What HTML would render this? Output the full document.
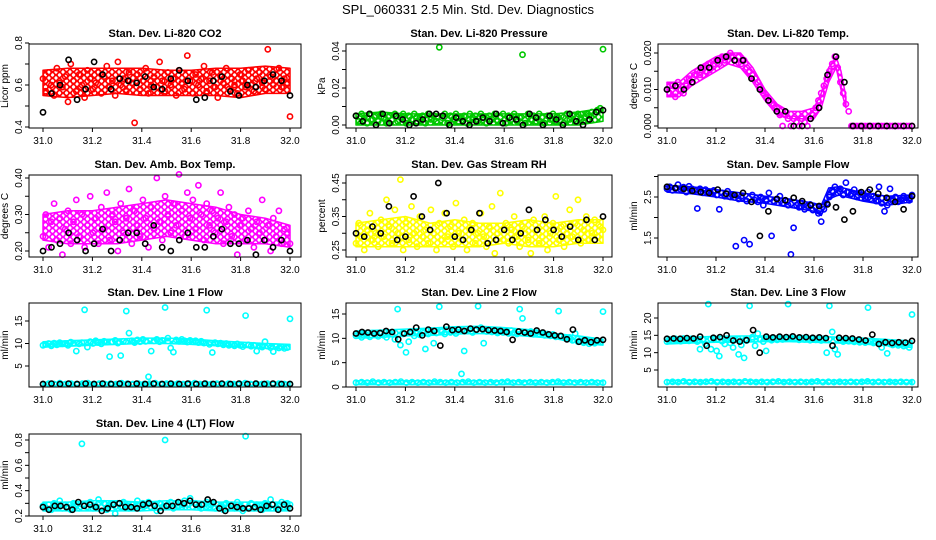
<!DOCTYPE html>
<html><head><meta charset="utf-8">
<style>
html,body{margin:0;padding:0;background:#fff;}
svg{display:block;font-family:"Liberation Sans",Arial,sans-serif;}
</style></head>
<body>
<svg id="chart" width="936" height="540" viewBox="0 0 936 540" xmlns="http://www.w3.org/2000/svg">
<defs id="defs"></defs>
<text x="468" y="14" text-anchor="middle" font-size="13">SPL_060331  2.5 Min. Std. Dev. Diagnostics</text>
</svg>
<script>
// ---- data ----
const xTicks = [31.0, 31.2, 31.4, 31.6, 31.8, 32.0];
const bandX11 = [31.0,31.1,31.2,31.3,31.4,31.5,31.6,31.7,31.8,31.9,32.0];
const co2Red = [0.63,0.57,0.66,0.60,0.55,0.68,0.61,0.59,0.64,0.52,0.70,0.62,0.57,0.65,0.60,0.54,0.67,0.63,0.58,0.61,0.66,0.56,0.64,0.69,0.59,0.62,0.55,0.71,0.60,0.63,0.57,0.66,0.61,0.42,0.65,0.58,0.62,0.68,0.56,0.60,0.64,0.59,0.71,0.62,0.57,0.66,0.60,0.63,0.55,0.67,0.61,0.58,0.74,0.62,0.56,0.65,0.60,0.63,0.69,0.57,0.62,0.66,0.59,0.54,0.64,0.61,0.68,0.58,0.63,0.60,0.56,0.65,0.62,0.59,0.67,0.60,0.57,0.63,0.66,0.61,0.58,0.77,0.64,0.60,0.62,0.68,0.59,0.63,0.61,0.45];
const co2Black = [0.47,0.56,0.60,0.72,0.53,0.58,0.71,0.65,0.58,0.63,0.62,0.61,0.64,0.59,0.58,0.63,0.67,0.62,0.53,0.54,0.62,0.64,0.57,0.55,0.60,0.59,0.62,0.65,0.62,0.55];
const co2BandLow = [0.55,0.54,0.55,0.56,0.55,0.55,0.55,0.55,0.54,0.56,0.56];
const co2BandHigh = [0.67,0.68,0.68,0.68,0.68,0.67,0.67,0.68,0.68,0.69,0.68];
const presGreen = [0.005,0.002,0.006,0.004,0.001,0.006,0.003,0.005,0.002,0.006,0.004,0.001,0.005,0.003,0.006,0.002,0.004,0.006,0.001,0.005,0.003,0.006,0.002,0.004,0.005,0.001,0.006,0.003,0.005,0.002,0.042,0.004,0.006,0.001,0.005,0.003,0.006,0.002,0.004,0.005,0.001,0.006,0.003,0.005,0.002,0.006,0.004,0.001,0.005,0.003,0.006,0.002,0.004,0.006,0.001,0.005,0.003,0.006,0.002,0.004,0.038,0.001,0.006,0.003,0.005,0.002,0.006,0.004,0.001,0.005,0.003,0.006,0.002,0.004,0.005,0.001,0.006,0.003,0.005,0.002,0.006,0.004,0.002,0.006,0.005,0.007,0.006,0.008,0.009,0.041];
const presBlack = [0.005,0.002,0.006,0.000,0.006,0.001,0.005,0.003,0.000,0.001,0.003,0.006,0.006,0.005,0.000,0.004,0.002,0.000,0.002,0.004,0.002,0.006,0.001,0.004,0.003,0.000,0.006,0.004,0.000,0.005,0.003,0.000,0.006,0.002,0.000,0.003,0.007,0.008];
const presBandLow = [0,0,0,0,0,0,0,0,0,0,0.002];
const presBandHigh = [0.006,0.007,0.006,0.006,0.006,0.006,0.006,0.006,0.006,0.007,0.009];
const tempMag = [0.010,0.009,0.011,0.008,0.012,0.010,0.009,0.011,0.013,0.012,0.014,0.015,0.014,0.016,0.015,0.017,0.016,0.017,0.018,0.017,0.019,0.018,0.019,0.020,0.019,0.018,0.019,0.017,0.018,0.016,0.015,0.014,0.013,0.012,0.010,0.009,0.008,0.007,0.006,0.005,0.004,0.003,0.000,0.003,0.002,0.000,0.002,0.001,0.000,0.002,0.001,0.000,0.002,0.003,0.005,0.007,0.009,0.011,0.013,0.015,0.017,0.019,0.016,0.012,0.009,0.006,0.004,0,0,0,0,0,0,0,0,0,0,0,0,0,0,0,0,0,0,0,0,0,0,0];
const tempBlack = [0.010,0.011,0.010,0.012,0.016,0.016,0.018,0.019,0.018,0.018,0.013,0.010,0.007,0.004,0.004,0.000,0.000,0.002,0.005,0.014,0.019,0.012,0,0,0,0,0,0,0,0];
const tempBandX = [31.0,31.05,31.1,31.15,31.2,31.25,31.3,31.35,31.4,31.45,31.5,31.55,31.6,31.63,31.66,31.69,31.71,31.73];
const tempBandLow = [0.008,0.008,0.011,0.013,0.015,0.017,0.016,0.012,0.007,0.003,0.002,0.002,0.002,0.005,0.012,0.016,0.010,0.005];
const tempBandHigh = [0.012,0.012,0.015,0.017,0.019,0.020,0.020,0.016,0.010,0.006,0.004,0.004,0.005,0.009,0.016,0.019,0.015,0.008];
const ambMag = [0.24,0.30,0.21,0.28,0.33,0.23,0.29,0.19,0.26,0.31,0.22,0.28,0.34,0.24,0.30,0.21,0.27,0.35,0.25,0.29,0.22,0.32,0.26,0.36,0.23,0.30,0.28,0.20,0.33,0.25,0.29,0.37,0.22,0.31,0.27,0.24,0.34,0.29,0.21,0.32,0.26,0.40,0.28,0.23,0.35,0.30,0.25,0.33,0.27,0.41,0.31,0.24,0.36,0.29,0.34,0.26,0.38,0.30,0.23,0.33,0.27,0.31,0.25,0.29,0.36,0.22,0.28,0.32,0.24,0.30,0.19,0.27,0.29,0.23,0.31,0.26,0.21,0.28,0.25,0.34,0.23,0.27,0.20,0.29,0.24,0.31,0.22,0.26,0.25,0.22];
const ambBlack = [0.20,0.21,0.22,0.25,0.23,0.20,0.22,0.26,0.20,0.23,0.25,0.25,0.22,0.27,0.21,0.20,0.23,0.25,0.21,0.21,0.24,0.26,0.22,0.22,0.23,0.19,0.23,0.21,0.23,0.20];
const ambBandLow = [0.23,0.22,0.22,0.22,0.23,0.24,0.23,0.22,0.22,0.22,0.21];
const ambBandHigh = [0.30,0.31,0.31,0.32,0.33,0.34,0.33,0.32,0.30,0.29,0.27];
const rhYellow = [0.27,0.33,0.29,0.25,0.31,0.36,0.28,0.30,0.26,0.34,0.29,0.40,0.32,0.27,0.37,0.30,0.46,0.25,0.33,0.28,0.38,0.30,0.26,0.35,0.29,0.31,0.27,0.37,0.30,0.25,0.33,0.28,0.36,0.29,0.32,0.26,0.39,0.30,0.28,0.34,0.25,0.31,0.33,0.27,0.30,0.36,0.29,0.26,0.32,0.38,0.24,0.30,0.42,0.28,0.33,0.27,0.31,0.35,0.29,0.26,0.32,0.30,0.28,0.24,0.34,0.31,0.27,0.29,0.35,0.25,0.30,0.33,0.41,0.28,0.32,0.26,0.30,0.37,0.29,0.33,0.40,0.27,0.31,0.35,0.28,0.30,0.34,0.29,0.32,0.31];
const rhBlack = [0.30,0.29,0.32,0.30,0.38,0.28,0.29,0.41,0.35,0.31,0.45,0.36,0.29,0.28,0.31,0.36,0.27,0.28,0.31,0.28,0.30,0.37,0.31,0.34,0.31,0.29,0.32,0.28,0.34,0.28,0.35];
const rhBandLow = [0.26,0.26,0.26,0.26,0.26,0.26,0.27,0.26,0.26,0.27,0.27];
const rhBandHigh = [0.33,0.34,0.35,0.33,0.34,0.33,0.33,0.34,0.33,0.34,0.34];
const flowBlue = [2.70,2.75,2.66,2.72,2.80,2.68,2.74,2.62,2.76,2.70,2.65,2.22,2.70,2.60,2.68,2.62,2.58,2.66,2.55,2.20,2.60,2.52,2.64,2.50,2.56,1.30,2.45,2.52,1.45,2.40,1.35,2.55,2.42,2.38,2.50,2.30,2.44,2.60,1.55,2.38,2.45,2.52,2.35,2.42,2.30,1.10,1.75,2.30,2.25,2.35,2.20,2.28,2.32,2.18,2.25,2.10,1.90,2.20,2.35,2.50,2.65,2.75,2.60,2.70,2.55,2.85,2.62,2.58,2.68,2.50,2.60,2.55,2.48,2.62,2.45,2.52,2.40,2.75,2.35,2.15,2.30,2.70,2.45,2.50,2.38,2.44,2.52,2.48,2.42,2.55];
const flowBlack = [2.75,2.72,2.70,2.65,2.62,2.60,2.68,2.58,2.55,2.60,2.38,1.55,2.15,2.45,2.42,2.48,2.40,2.30,2.28,2.32,2.25,1.95,2.15,2.62,2.68,2.58,2.48,2.38,2.20,2.52];
const flowBandX = [31.0,31.1,31.2,31.3,31.4,31.5,31.6,31.63,31.66,31.7,31.8,31.9,32.0];
const flowBandLow = [2.62,2.58,2.50,2.40,2.35,2.25,2.15,2.05,2.45,2.55,2.40,2.30,2.38];
const flowBandHigh = [2.78,2.75,2.68,2.60,2.52,2.45,2.35,2.30,2.72,2.75,2.60,2.52,2.55];
const l1Upper = [9.6,9.8,10.0,9.5,10.1,9.7,10.2,9.9,10.0,9.6,10.3,10.1,8.3,9.9,10.2,17.5,9.2,10.4,10.0,10.6,10.2,9.9,10.5,10.3,7.1,10.4,10.7,10.1,7.3,10.5,17.2,12.3,10.6,10.2,10.8,10.4,10.9,10.5,2.6,8.3,10.6,10.9,10.4,10.7,18.0,11.2,9.0,8.1,10.8,10.5,10.9,10.6,10.3,10.7,10.4,10.6,10.2,10.5,10.1,17.4,9.8,8.0,10.2,9.9,10.1,9.7,10.0,9.6,9.8,9.5,9.9,9.6,9.3,16.2,9.7,9.4,9.6,8.3,9.5,9.2,10.4,9.4,9.1,8.2,9.3,9.0,9.2,8.9,9.1,15.5];
const l1Lower = [1.0,1.1,1.0,1.2,1.0,1.1,1.0,1.1,1.2,1.0,1.1,1.0,1.1,1.0,1.2,1.1,1.0,1.1,1.0,1.1,1.2,1.0,1.1,1.0,1.1,1.0,1.1,1.2,1.0,1.1,1.0,1.1,1.0,1.1,1.0,1.1,1.2,1.0,1.1,1.0,1.1,1.0,1.1,1.0,1.0];
const l1Black = [1.0,1.1,1.0,1.1,1.0,1.1,1.0,1.1,1.0,1.1,1.0,1.1,1.0,1.1,1.0,1.1,1.0,1.1,1.0,1.1,1.0,1.1,1.0,1.1,1.0,1.1,1.0,1.1,1.0,1.0];
const l1BandLow = [9.2,9.4,9.6,9.8,10.0,10.0,9.8,9.5,9.2,8.9,8.7];
const l1BandHigh = [10.4,10.6,10.8,11.0,11.2,11.2,11.0,10.6,10.3,10.0,9.8];
const l1LowBandLow = [0.7,0.7,0.7,0.7,0.7,0.7,0.7,0.7,0.7,0.7,0.7];
const l1LowBandHigh = [1.4,1.4,1.4,1.4,1.4,1.4,1.4,1.4,1.4,1.4,1.4];
const l2Upper = [10.5,10.9,10.2,11.0,10.6,10.3,11.1,10.7,10.4,11.0,10.6,10.2,11.2,10.8,9.8,16.0,8.6,10.9,7.1,9.3,11.3,10.5,11.0,10.7,11.4,7.8,10.9,11.6,9.0,11.1,16.5,11.4,10.9,11.7,11.2,11.5,11.0,11.8,2.7,7.4,11.5,11.9,11.2,11.6,16.6,12.2,9.0,11.4,11.8,11.3,11.6,11.1,11.7,11.2,11.5,11.0,11.6,11.2,10.9,16.0,14.1,11.3,11.0,11.4,10.8,11.2,10.9,11.1,10.6,10.9,10.5,10.8,10.3,15.6,10.4,10.1,10.0,10.2,9.6,11.0,9.3,9.5,9.1,9.4,8.9,9.3,9.0,9.5,9.2,15.5];
const l2Lower = [0.9,1.0,0.9,1.1,0.9,1.0,0.9,1.0,1.1,0.9,1.0,0.9,1.0,0.9,1.1,1.0,0.9,1.0,0.9,1.0,1.1,0.9,1.0,0.9,1.0,0.9,1.0,1.1,0.9,1.0,0.9,1.0,0.9,1.0,0.9,1.0,1.1,0.9,1.0,0.9,1.0,0.9,1.0,0.9,0.9];
const l2Black = [11.0,11.3,11.2,11.0,11.1,11.5,11.3,9.8,11.0,11.3,12.2,10.6,11.8,11.5,8.5,12.4,11.7,11.8,11.5,12.0,11.8,11.9,11.7,11.6,11.5,11.3,9.7,11.4,11.2,11.0,11.6,11.2,10.8,10.6,10.5,9.8,11.8,9.3,9.6,9.2,9.6,9.7];
const l2BandLow = [10.0,10.2,10.5,10.6,10.9,11.0,10.8,10.4,10.0,9.0,8.6];
const l2BandHigh = [11.5,11.7,11.9,12.1,12.4,12.5,12.2,11.8,11.0,10.5,9.8];
const l2LowBandLow = [0.5,0.5,0.5,0.5,0.5,0.5,0.5,0.5,0.5,0.5,0.5];
const l2LowBandHigh = [1.3,1.3,1.3,1.3,1.3,1.3,1.3,1.3,1.3,1.3,1.3];
const l3Upper = [13.2,13.8,13.5,14.0,13.6,13.3,14.1,13.7,13.4,14.0,13.6,13.2,11.0,13.8,12.5,24.0,11.0,13.9,10.5,9.0,13.3,12.5,14.0,12.8,11.5,13.7,9.5,12.2,8.5,13.5,23.5,14.5,12.0,15.5,13.8,13.2,10.5,14.0,13.6,14.1,13.7,14.2,13.8,14.0,24.0,14.3,13.9,14.1,13.7,14.2,13.8,14.0,13.6,14.1,13.7,13.9,13.5,14.0,10.0,23.5,16.0,11.0,9.5,13.6,13.2,13.7,13.3,13.6,13.1,13.5,13.0,13.4,12.9,23.0,13.2,12.8,13.1,12.6,11.5,13.2,9.8,12.5,12.2,12.6,12.1,12.4,11.9,12.3,11.5,21.0];
const l3Lower = [1.5,1.6,1.5,1.7,1.5,1.6,1.5,1.6,1.7,1.5,1.6,1.5,1.6,1.5,1.7,1.6,1.5,1.6,1.5,1.6,1.7,1.5,1.6,1.5,1.6,1.5,1.6,1.7,1.5,1.6,1.5,1.6,1.5,1.6,1.5,1.6,1.7,1.5,1.6,1.5,1.6,1.5,1.6,1.5,1.5];
const l3Black = [14.0,14.1,14.0,14.2,14.1,14.6,12.0,14.3,14.5,15.0,13.5,13.2,13.6,16.5,10.0,14.6,14.4,14.6,14.5,14.7,14.4,14.5,14.3,14.4,14.2,12.0,14.3,14.2,14.1,13.8,13.5,15.2,12.5,13.0,12.8,13.0,12.9,13.4];
const l3BandLow = [12.5,12.8,13.0,13.0,13.2,13.2,13.0,12.8,12.5,12.0,11.5];
const l3BandHigh = [14.3,14.5,14.7,14.8,14.8,14.8,14.7,14.5,14.2,13.8,13.4];
const l3LowBandLow = [1.1,1.1,1.1,1.1,1.1,1.1,1.1,1.1,1.1,1.1,1.1];
const l3LowBandHigh = [2.0,2.0,2.0,2.0,2.0,2.0,2.0,2.0,2.0,2.0,2.0];
const l4Cyan = [0.28,0.26,0.29,0.25,0.30,0.27,0.32,0.26,0.29,0.27,0.25,0.30,0.28,0.26,0.77,0.29,0.27,0.31,0.26,0.28,0.33,0.27,0.30,0.25,0.29,0.26,0.22,0.30,0.27,0.31,0.28,0.26,0.29,0.27,0.32,0.26,0.30,0.28,0.31,0.27,0.29,0.24,0.30,0.27,0.80,0.28,0.31,0.26,0.30,0.28,0.27,0.32,0.29,0.34,0.27,0.30,0.28,0.26,0.29,0.31,0.27,0.30,0.26,0.29,0.28,0.25,0.30,0.27,0.29,0.26,0.31,0.28,0.24,0.83,0.27,0.30,0.26,0.29,0.28,0.25,0.30,0.27,0.33,0.29,0.26,0.28,0.31,0.27,0.30,0.29];
const l4Black = [0.27,0.25,0.28,0.28,0.27,0.25,0.31,0.28,0.29,0.27,0.24,0.26,0.29,0.30,0.27,0.27,0.26,0.29,0.30,0.28,0.24,0.28,0.28,0.31,0.30,0.32,0.29,0.29,0.33,0.31,0.26,0.24,0.28,0.27,0.26,0.26,0.27,0.25,0.28,0.29,0.25,0.29,0.26];
const l4BandLow = [0.24,0.24,0.24,0.24,0.24,0.25,0.25,0.24,0.24,0.24,0.24];
const l4BandHigh = [0.31,0.31,0.32,0.32,0.31,0.32,0.32,0.31,0.31,0.31,0.31];

// ---- layout ----
const svg = document.getElementById('chart');
const defs = document.getElementById('defs');
const NS = 'http://www.w3.org/2000/svg';
function mk(tag, attrs, parent) {
  const e = document.createElementNS(NS, tag);
  for (const k in attrs) e.setAttribute(k, attrs[k]);
  (parent || svg).appendChild(e);
  return e;
}
const patIds = {};
function pattern(color) {
  if (patIds[color]) return patIds[color];
  const id = 'pat' + Object.keys(patIds).length;
  const p = mk('pattern', {id:id, width:7, height:6, patternUnits:'userSpaceOnUse'}, defs);
  mk('rect', {x:0, y:0, width:7, height:6, fill:'#fff'}, p);
  [[0,0],[7,0],[3.5,3],[0,6],[7,6]].forEach(c => mk('circle', {cx:c[0], cy:c[1], r:2.4, fill:'none', stroke:color, 'stroke-width':1.4}, p));
  patIds[color] = id;
  return id;
}
const cols = [{l:29,r:301,x0:43,x1:290},{l:346,r:612,x0:356,x1:603},{l:658,r:918,x0:667,x1:912}];
const rows = [{t:44,b:128},{t:175,b:257},{t:303,b:387},{t:434,b:516}];

const panels = [
  {key:'co2',title:'Stan. Dev. Li-820 CO2',ylab:'Licor ppm',c:0,r:0,v0:0.4,p0:127,v1:0.8,p1:43,ticks:[0.4,0.5,0.6,0.7,0.8],labels:['0.4',null,'0.6',null,'0.8'],bands:[[bandX11,co2BandLow,co2BandHigh,'#ff0000']],series:[[co2Red,'#ff0000'],[co2Black,'#000']]},
  {key:'pressure',title:'Stan. Dev. Li-820 Pressure',ylab:'kPa',c:1,r:0,v0:0,p0:125,v1:0.04,p1:51,ticks:[0,0.01,0.02,0.03,0.04],labels:['0.00',null,'0.02',null,'0.04'],bands:[[bandX11,presBandLow,presBandHigh,'#00c800']],series:[[presGreen,'#00c800'],[presBlack,'#000']]},
  {key:'temp',title:'Stan. Dev. Li-820 Temp.',ylab:'degrees C',c:2,r:0,v0:0,p0:126,v1:0.02,p1:53,ticks:[0,0.005,0.01,0.015,0.02],labels:['0.000',null,'0.010',null,'0.020'],bands:[[tempBandX,tempBandLow,tempBandHigh,'#ff00ff']],series:[[tempMag,'#ff00ff'],[tempBlack,'#000']]},
  {key:'amb',title:'Stan. Dev. Amb. Box Temp.',ylab:'degrees C',c:0,r:1,v0:0.2,p0:251,v1:0.4,p1:178,ticks:[0.2,0.25,0.3,0.35,0.4],labels:['0.20',null,'0.30',null,'0.40'],bands:[[bandX11,ambBandLow,ambBandHigh,'#ff00ff']],series:[[ambMag,'#ff00ff'],[ambBlack,'#000']]},
  {key:'rh',title:'Stan. Dev. Gas Stream RH',ylab:'percent',c:1,r:1,v0:0.25,p0:250,v1:0.45,p1:183,ticks:[0.25,0.3,0.35,0.4,0.45],labels:['0.25',null,'0.35',null,'0.45'],bands:[[bandX11,rhBandLow,rhBandHigh,'#ffff00']],series:[[rhYellow,'#ffff00'],[rhBlack,'#000']]},
  {key:'sample-flow',title:'Stan. Dev. Sample Flow',ylab:'ml/min',c:2,r:1,v0:1.5,p0:238,v1:2.5,p1:197,ticks:[1.5,2.0,2.5,3.0],labels:['1.5',null,'2.5',null],bands:[[flowBandX,flowBandLow,flowBandHigh,'#0000ff']],series:[[flowBlue,'#0000ff'],[flowBlack,'#000']]},
  {key:'line1',title:'Stan. Dev. Line 1 Flow',ylab:'ml/min',c:0,r:2,v0:5,p0:366,v1:15,p1:321,ticks:[5,10,15],labels:['5','10','15'],bands:[[bandX11,l1BandLow,l1BandHigh,'#00ffff'],[bandX11,l1LowBandLow,l1LowBandHigh,'#00ffff']],series:[[l1Upper,'#00ffff'],[l1Lower,'#00ffff'],[l1Black,'#000']]},
  {key:'line2',title:'Stan. Dev. Line 2 Flow',ylab:'ml/min',c:1,r:2,v0:0,p0:387,v1:15,p1:314,ticks:[0,5,10,15],labels:['0','5','10','15'],bands:[[bandX11,l2BandLow,l2BandHigh,'#00ffff'],[bandX11,l2LowBandLow,l2LowBandHigh,'#00ffff']],series:[[l2Upper,'#00ffff'],[l2Lower,'#00ffff'],[l2Black,'#000']]},
  {key:'line3',title:'Stan. Dev. Line 3 Flow',ylab:'ml/min',c:2,r:2,v0:5,p0:370,v1:20,p1:318,ticks:[5,10,15,20],labels:['5','10','15','20'],bands:[[bandX11,l3BandLow,l3BandHigh,'#00ffff'],[bandX11,l3LowBandLow,l3LowBandHigh,'#00ffff']],series:[[l3Upper,'#00ffff'],[l3Lower,'#00ffff'],[l3Black,'#000']]},
  {key:'line4',title:'Stan. Dev. Line 4 (LT) Flow',ylab:'ml/min',c:0,r:3,v0:0.2,p0:516,v1:0.8,p1:440,ticks:[0.2,0.3,0.4,0.5,0.6,0.7,0.8],labels:['0.2',null,'0.4',null,'0.6',null,'0.8'],bands:[[bandX11,l4BandLow,l4BandHigh,'#00ffff']],series:[[l4Cyan,'#00ffff'],[l4Black,'#000']]}
];

panels.forEach(p => {
  const col = cols[p.c], row = rows[p.r];
  const g = mk('g', {});
  
  
  const xs = v => col.x0 + (v - 31) / (32 - 31) * (col.x1 - col.x0);
  const ys = v => p.p0 + (v - p.v0) / (p.v1 - p.v0) * (p.p1 - p.p0);

  const t = mk('text', {x:(col.l+col.r)/2, y:row.t-7, 'text-anchor':'middle', 'font-size':11, 'font-weight':'bold'}, g);
  t.textContent = p.title;
  
  

  (p.bands || []).forEach((b, bi) => {
    const bx = b[0], lo = b[1], hi = b[2];
    const pts = [];
    bx.forEach((x, i) => pts.push(xs(x).toFixed(1) + ',' + ys(hi[i]).toFixed(1)));
    for (let i = bx.length - 1; i >= 0; i--) pts.push(xs(bx[i]).toFixed(1) + ',' + ys(lo[i]).toFixed(1));
    const poly = mk('polygon', {points:pts.join(' '), fill:'url(#' + pattern(b[3]) + ')', stroke:b[3], 'stroke-width':1.5, 'stroke-linejoin':'round'}, g);
    
    
  });

  p.series.forEach((s, si) => {
    const vals = s[0], n = vals.length;
    const sg = mk('g', {fill:'none', stroke:s[1], 'stroke-width':1.6}, g);
    
    
    vals.forEach((v, i) => {
      const c = mk('circle', {cx:xs(31 + i / (n - 1)).toFixed(1), cy:ys(v).toFixed(1), r:2.6}, sg);
      
      
    });
  });

  const box = mk('rect', {x:col.l, y:row.t, width:col.r-col.l, height:row.b-row.t, fill:'none', stroke:'#000', 'stroke-width':1}, g);
  
  

  const xa = mk('g', {}, g);
  
  
  mk('line', {x1:xs(31), x2:xs(32), y1:row.b, y2:row.b, stroke:'#000'}, xa);
  xTicks.forEach(v => {
    mk('line', {x1:xs(v), x2:xs(v), y1:row.b, y2:row.b+4, stroke:'#000'}, xa);
    const tl = mk('text', {x:xs(v), y:row.b+16, 'text-anchor':'middle', 'font-size':10}, xa);
    tl.textContent = v.toFixed(1);
  });

  const ya = mk('g', {}, g);
  
  
  mk('line', {x1:col.l, x2:col.l, y1:ys(p.ticks[0]), y2:ys(p.ticks[p.ticks.length-1]), stroke:'#000'}, ya);
  p.ticks.forEach((v, i) => {
    const y = ys(v);
    mk('line', {x1:col.l-4, x2:col.l, y1:y, y2:y, stroke:'#000'}, ya);
    if (p.labels[i]) {
      const tl = mk('text', {x:0, y:0, 'text-anchor':'middle', 'font-size':10, transform:`translate(${col.l-7},${y}) rotate(-90)`}, ya);
      tl.textContent = p.labels[i];
    }
  });
  const yl = mk('text', {x:0, y:0, 'text-anchor':'middle', 'font-size':10, transform:`translate(${col.l-21},${(row.t+row.b)/2}) rotate(-90)`}, g);
  yl.textContent = p.ylab;
  
  
});
</script>
</body></html>
